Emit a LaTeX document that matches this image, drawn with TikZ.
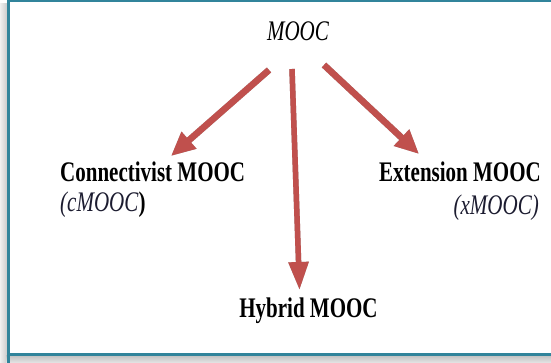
\documentclass[tikz,border=0pt]{standalone}
\usepackage{fontspec}
\setmainfont{Liberation Serif}
\usetikzlibrary{arrows.meta}
\definecolor{arrowred}{HTML}{C0504D}
\definecolor{frameteal}{HTML}{31849B}
\definecolor{subtext}{HTML}{1C1C30}
\tikzset{
  lbl/.style={inner sep=0pt, font=\fontsize{21}{21}\selectfont},
  bigarrow/.style={draw=arrowred, line width=6.5pt, -{Triangle[width=21pt,length=24pt]}, arrowred},
  shadowarrow/.style={draw=gray!70, line width=6.5pt, -{Triangle[width=21pt,length=24pt]}, gray!70}
}
\newcommand{\vstretch}[1]{\scalebox{1}[1.35]{#1}}
\begin{document}
\begin{tikzpicture}[x=1pt,y=-1pt]
\useasboundingbox (0,0) rectangle (551,363);
\clip (0,0) rectangle (551,363);
% shadow of frame
\shade[left color=gray!12, right color=gray!45] (0,4) rectangle (8,363);
\shade[top color=gray!50, bottom color=gray!20] (6,355) rectangle (551,363);
% frame
\fill[white] (8,0) rectangle (560,355);
\draw[frameteal, line width=2.2pt] (8.5,363) -- (8.5,1) -- (560,1);
\draw[frameteal, line width=2.2pt] (8.5,354.5) -- (560,354.5);

% texts
\node[lbl, anchor=base] (mooc) at (298,41) {\vstretch{\itshape MOOC}};
\node[lbl, anchor=base west] (cmooc) at (60,182) {\vstretch{\bfseries Connectivist MOOC}};
\node[lbl, anchor=base west, text=subtext] (cmoocsub) at (60,212) {\vstretch{\itshape (cMOOC\textup{\bfseries\color{black})}}};
\node[lbl, anchor=base east] (xmooc) at (541,182) {\vstretch{\bfseries Extension MOOC}};
\node[lbl, anchor=base east, text=subtext] (xmoocsub) at (539,215) {\vstretch{\itshape (xMOOC)}};
\node[lbl, anchor=base] (hmooc) at (308.5,317) {\vstretch{\bfseries Hybrid MOOC}};

% arrow end points
\coordinate (lS) at (269,70);
\coordinate (lE) at (171,156);
\coordinate (mS) at (292,69);
\coordinate (mE) at (299.5,290);
\coordinate (rS) at (324,65);
\coordinate (rE) at (419,154);

% shadows
\begin{scope}[shift={(2,3)}]
\draw[shadowarrow] (lS) -- (lE);
\draw[shadowarrow] (rS) -- (rE);
\end{scope}
\begin{scope}[shift={(1.5,1)}]
\draw[shadowarrow, line width=5.5pt, -{Triangle[width=19pt,length=28pt]}] (mS) -- (mE);
\end{scope}
% arrows
\draw[bigarrow] (lS) -- (lE);
\draw[bigarrow] (rS) -- (rE);
\draw[bigarrow, line width=5.5pt, -{Triangle[width=19pt,length=28pt]}] (mS) -- (mE);
\end{tikzpicture}
\end{document}
